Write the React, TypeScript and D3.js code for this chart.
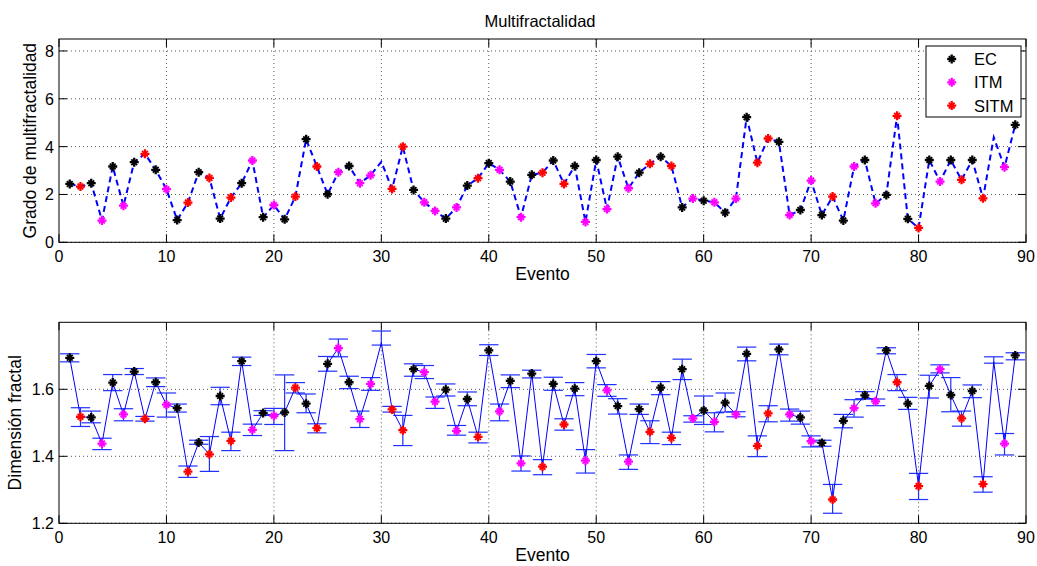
import React from "react";
import * as d3 from "d3";

// ---------- data ----------
const EVENTS: number[] = d3.range(1, 90);
const CATEGORY: string[] = [
  "EC","SITM","EC","ITM","EC","ITM","EC","SITM","EC","ITM",
  "EC","SITM","EC","SITM","EC","SITM","EC","ITM","EC","ITM",
  "EC","SITM","EC","SITM","EC","ITM","EC","ITM","ITM","",
  "SITM","SITM","EC","ITM","ITM","EC","ITM","EC","SITM","EC",
  "ITM","EC","ITM","EC","SITM","EC","SITM","EC","ITM","EC",
  "ITM","EC","ITM","EC","SITM","EC","SITM","EC","ITM","EC",
  "ITM","EC","ITM","EC","SITM","SITM","EC","ITM","EC","ITM",
  "EC","SITM","EC","ITM","EC","ITM","EC","SITM","EC","SITM",
  "EC","ITM","EC","SITM","EC","SITM","","ITM","EC",
];
const MULTIFRACTAL: number[] = [
  2.44,2.33,2.47,0.91,3.17,1.53,3.35,3.70,3.03,2.22,
  0.93,1.66,2.93,2.69,0.99,1.87,2.47,3.42,1.05,1.56,
  0.96,1.91,4.31,3.17,2.01,2.93,3.19,2.47,2.80,3.37,
  2.23,4.00,2.19,1.67,1.31,0.99,1.46,2.37,2.68,3.31,
  3.03,2.54,1.05,2.82,2.91,3.42,2.44,3.19,0.85,3.44,
  1.39,3.58,2.26,2.91,3.28,3.58,3.19,1.46,1.83,1.74,
  1.67,1.24,1.83,5.23,3.33,4.34,4.20,1.14,1.35,2.58,
  1.14,1.91,0.91,3.17,3.44,1.63,1.98,5.29,0.98,0.60,
  3.44,2.54,3.44,2.61,3.44,1.84,4.39,3.14,4.91,
];
const DIM_FRACTAL: number[] = [
  1.694,1.518,1.516,1.438,1.620,1.525,1.653,1.512,1.621,1.554,
  1.544,1.354,1.441,1.406,1.580,1.446,1.684,1.479,1.529,1.521,
  1.531,1.605,1.557,1.484,1.676,1.723,1.621,1.511,1.616,1.739,
  1.540,1.478,1.660,1.651,1.563,1.599,1.476,1.571,1.458,1.716,
  1.534,1.625,1.379,1.647,1.369,1.616,1.495,1.602,1.387,1.684,
  1.597,1.550,1.384,1.541,1.473,1.605,1.455,1.660,1.513,1.537,
  1.503,1.560,1.525,1.706,1.431,1.528,1.719,1.525,1.516,1.445,
  1.440,1.271,1.506,1.544,1.582,1.564,1.716,1.621,1.557,1.311,
  1.610,1.660,1.583,1.513,1.595,1.317,1.682,1.438,1.701,
];
const DIM_LOWER: number[] = [
  1.682,1.489,1.500,1.420,1.596,1.506,1.644,1.505,1.608,1.517,
  1.532,1.337,1.436,1.355,1.554,1.417,1.671,1.462,1.522,1.495,
  1.417,1.589,1.530,1.470,1.654,1.697,1.602,1.486,1.597,1.732,
  1.532,1.432,1.639,1.632,1.543,1.580,1.463,1.551,1.440,1.701,
  1.506,1.605,1.356,1.634,1.345,1.597,1.478,1.581,1.350,1.664,
  1.579,1.526,1.361,1.525,1.438,1.584,1.435,1.629,1.502,1.495,
  1.473,1.532,1.518,1.685,1.399,1.503,1.703,1.505,1.496,1.428,
  1.430,1.230,1.485,1.517,1.572,1.551,1.706,1.596,1.540,1.271,
  1.574,1.649,1.533,1.490,1.575,1.293,1.678,1.404,1.688,
];
const DIM_UPPER: number[] = [
  1.706,1.545,1.535,1.454,1.644,1.542,1.662,1.519,1.634,1.589,
  1.556,1.371,1.448,1.459,1.606,1.472,1.696,1.496,1.536,1.543,
  1.643,1.620,1.586,1.497,1.698,1.750,1.639,1.535,1.635,1.774,
  1.549,1.522,1.676,1.671,1.577,1.616,1.492,1.592,1.472,1.733,
  1.556,1.643,1.401,1.657,1.390,1.636,1.512,1.620,1.420,1.704,
  1.614,1.572,1.404,1.556,1.506,1.623,1.472,1.690,1.521,1.580,
  1.530,1.589,1.533,1.726,1.461,1.551,1.735,1.541,1.535,1.461,
  1.448,1.316,1.525,1.569,1.593,1.571,1.724,1.644,1.576,1.349,
  1.642,1.673,1.635,1.535,1.613,1.339,1.697,1.468,1.709,
];
const SERIES: string[] = ["EC", "ITM", "SITM"];
const SERIES_COLORS: string[] = ["#000000", "#ff00ff", "#ff0000"];
const X_TICKS: number[] = [0, 10, 20, 30, 40, 50, 60, 70, 80, 90];
const Y1_TICKS: number[] = [0, 2, 4, 6, 8];
const Y2_TICKS: number[] = [1.2, 1.4, 1.6];

const TITLE = "Multifractalidad";
const X_LABEL = "Evento";
const Y1_LABEL = "Grado de multifractalidad";
const Y2_LABEL = "Dimensión fractal";

// ---------- layout ----------
const W = 1037, H = 566;
const L = 59, R = 1026;
const P1 = { top: 39, bottom: 242.3 };
const P2 = { top: 322.3, bottom: 523.3 };
const FONT = "'Liberation Sans', Arial, Helvetica, sans-serif";
const TICK = 8;

const x = d3.scaleLinear().domain([0, 90]).range([L, R]);
const y1 = d3.scaleLinear().domain([0, 8.5]).range([P1.bottom, P1.top]);
const y2 = d3.scaleLinear().domain([1.2, 1.8]).range([P2.bottom, P2.top]);

const colorOf = (c: string) => SERIES_COLORS[SERIES.indexOf(c)];
const PLUS = "M-4.5,0H4.5M0,-4.5V4.5";
const CROSS = "M-2.9,-2.9L2.9,2.9M-2.9,2.9L2.9,-2.9";

function Star({ cx, cy, color }: { cx: number; cy: number; color: string }) {
  return (
    <g transform={`translate(${cx},${cy})`}>
      <path d={PLUS} stroke={color} strokeWidth={2.3} fill="none" />
      <path d={CROSS} stroke={color} strokeWidth={1.8} fill="none" />
    </g>
  );
}

function Frame({ y, top, bottom, yTicks, fmt, yLabel, yLabelX }: any) {
  return (
    <g>
      {X_TICKS.filter((t) => t > 0 && t < 90).map((t) => (
        <line key={"gx" + t} x1={x(t)} x2={x(t)} y1={top} y2={bottom} stroke="#555" strokeWidth={1} strokeDasharray="1,3" />
      ))}
      {yTicks.map((t: number) => (
        <line key={"gy" + t} x1={L} x2={R} y1={y(t)} y2={y(t)} stroke="#555" strokeWidth={1} strokeDasharray="1,3" />
      ))}
      <rect x={L} y={top} width={R - L} height={bottom - top} fill="none" stroke="#000" strokeWidth={1} />
      {X_TICKS.map((t) => (
        <g key={"tx" + t}>
          <line x1={x(t)} x2={x(t)} y1={bottom} y2={bottom - TICK} stroke="#000" />
          <line x1={x(t)} x2={x(t)} y1={top} y2={top + TICK} stroke="#000" />
          <text x={x(t)} y={bottom + 20} textAnchor="middle" fontSize={16} fontFamily={FONT} fill="#000">{t}</text>
        </g>
      ))}
      {yTicks.map((t: number) => (
        <g key={"ty" + t}>
          <line x1={L} x2={L + TICK} y1={y(t)} y2={y(t)} stroke="#000" />
          <line x1={R} x2={R - TICK} y1={y(t)} y2={y(t)} stroke="#000" />
          <text x={L - 5} y={y(t) + 6} textAnchor="end" fontSize={16} fontFamily={FONT} fill="#000">{fmt(t)}</text>
        </g>
      ))}
      <text x={(L + R) / 2} y={bottom + 38} textAnchor="middle" fontSize={17.5} fontFamily={FONT} fill="#000">{X_LABEL}</text>
      <text transform={`translate(${yLabelX},${(top + bottom) / 2}) rotate(-90)`} textAnchor="middle" fontSize={17.5} fontFamily={FONT} fill="#000">{yLabel}</text>
    </g>
  );
}

export default function App() {
  const line1 = d3.line<number>().x((d, i) => x(EVENTS[i])).y((d) => y1(d))(MULTIFRACTAL) as string;
  const line2 = d3.line<number>().x((d, i) => x(EVENTS[i])).y((d) => y2(d))(DIM_FRACTAL) as string;
  const capHalf = x(0.9) - x(0);
  const eb = "#2030ff";
  return (
    <div style={{ position: "absolute", left: 0, top: 0, background: "#fff" }}>
      <svg width={W} height={H} style={{ display: "block" }}>
        <rect width={W} height={H} fill="#fff" />
        {/* ---------- top panel ---------- */}
        <Frame y={y1} top={P1.top} bottom={P1.bottom} yTicks={Y1_TICKS} fmt={(t: number) => String(t)} yLabel={Y1_LABEL} yLabelX={36} />
        <path d={line1} fill="none" stroke="#0000ff" strokeWidth={2} strokeDasharray="6,4" />
        {EVENTS.map((e, i) =>
          CATEGORY[i] ? <Star key={"m1" + e} cx={x(e)} cy={y1(MULTIFRACTAL[i])} color={colorOf(CATEGORY[i])} /> : null
        )}
        <text x={540} y={26.5} textAnchor="middle" fontSize={16.5} fontFamily={FONT} fill="#000">{TITLE}</text>
        {/* legend */}
        <g>
          <rect x={926} y={46} width={95} height={71} fill="#fff" stroke="#000" strokeWidth={1} />
          {SERIES.map((s, i) => (
            <g key={"lg" + s}>
              <Star cx={951.7} cy={59 + i * 23.3} color={SERIES_COLORS[i]} />
              <text x={974} y={59 + i * 23.3 + 6} fontSize={16.5} fontFamily={FONT} fill="#000">{s}</text>
            </g>
          ))}
        </g>
        {/* ---------- bottom panel ---------- */}
        <Frame y={y2} top={P2.top} bottom={P2.bottom} yTicks={Y2_TICKS} fmt={(t: number) => t.toFixed(1)} yLabel={Y2_LABEL} yLabelX={20.5} />
        {EVENTS.map((e, i) => (
          <g key={"eb" + e}>
            <line x1={x(e)} x2={x(e)} y1={y2(DIM_LOWER[i])} y2={y2(DIM_UPPER[i])} stroke={eb} strokeWidth={1.2} />
            <line x1={x(e) - capHalf} x2={x(e) + capHalf} y1={y2(DIM_LOWER[i])} y2={y2(DIM_LOWER[i])} stroke={eb} strokeWidth={1.2} />
            <line x1={x(e) - capHalf} x2={x(e) + capHalf} y1={y2(DIM_UPPER[i])} y2={y2(DIM_UPPER[i])} stroke={eb} strokeWidth={1.2} />
          </g>
        ))}
        <path d={line2} fill="none" stroke="#0000ff" strokeWidth={1} />
        {EVENTS.map((e, i) =>
          CATEGORY[i] ? <Star key={"m2" + e} cx={x(e)} cy={y2(DIM_FRACTAL[i])} color={colorOf(CATEGORY[i])} /> : null
        )}
      </svg>
    </div>
  );
}
